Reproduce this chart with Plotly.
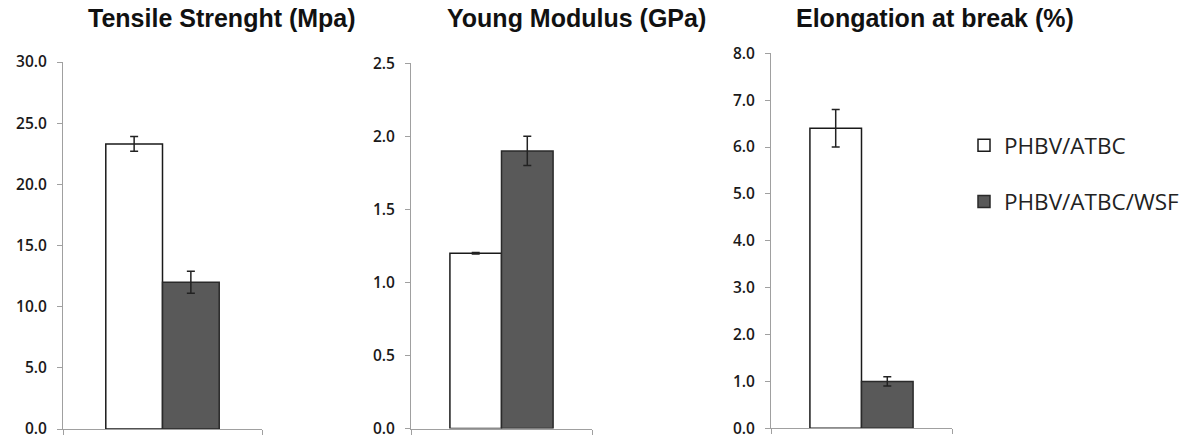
import plotly.graph_objects as go

# ---- data ----
series_names = ["PHBV/ATBC", "PHBV/ATBC/WSF"]
panel_titles = ["Tensile Strenght (Mpa)", "Young Modulus (GPa)", "Elongation at break (%)"]
tensile = [23.3, 12.0]
tensile_err = [0.6, 0.9]
young = [1.2, 1.9]
young_err = [0.005, 0.1]
elong = [6.4, 1.0]
elong_err = [0.4, 0.1]
y_max = [30.0, 2.5, 8.0]
y_step = [5.0, 0.5, 1.0]

values = [tensile, young, elong]
errors = [tensile_err, young_err, elong_err]

W, H = 1193, 440
fills = ["#ffffff", "#595959"]
lines = ["#1a1a1a", "#2a2a2a"]

# pixel geometry of panels (left, right, top, bottom)
boxes = [(63, 262, 62, 429), (411, 592, 63.3, 428.5), (771, 952, 53.3, 428.3)]
title_cx = [222, 576, 935]

fig = go.Figure()
for p in range(3):
    xa = "x" if p == 0 else f"x{p+1}"
    ya = "y" if p == 0 else f"y{p+1}"
    for s in range(2):
        fig.add_trace(go.Bar(
            x=[0], y=[values[p][s]], name=series_names[s],
            xaxis=xa, yaxis=ya, offsetgroup=str(s),
            marker=dict(color=fills[s], line=dict(color=lines[s], width=1.5)),
            error_y=dict(type="data", array=[errors[p][s]], visible=True,
                         color="#222222", thickness=1.5, width=4),
            showlegend=(p == 0), legendgroup=series_names[s],
        ))

layout = dict(
    width=W, height=H, margin=dict(l=0, r=0, t=0, b=0, autoexpand=False),
    paper_bgcolor="white", plot_bgcolor="white",
    barmode="group", bargap=0.43, bargroupgap=0,
    showlegend=True,
    legend=dict(x=964 / W, y=1 - 124 / H, xanchor="left", yanchor="top",
                font=dict(family="Open Sans", size=22.5, color="#222222"),
                tracegroupgap=24, traceorder="grouped",
                bgcolor="rgba(0,0,0,0)"),
)
annotations = []
for p in range(3):
    l, r, t, b = boxes[p]
    sfx = "" if p == 0 else str(p + 1)
    layout["xaxis" + sfx] = dict(
        domain=[l / W, r / W], anchor="y" + sfx, range=[-0.5, 0.5],
        tickvals=[-0.5, 0.5], ticktext=["", ""], ticks="outside", ticklen=5,
        tickcolor="#a0a0a0", showline=True, linecolor="#a0a0a0", linewidth=1,
        showgrid=False, zeroline=False, fixedrange=True, automargin=False,
    )
    n = int(round(y_max[p] / y_step[p]))
    tv = [round(i * y_step[p], 3) for i in range(n + 1)]
    layout["yaxis" + sfx] = dict(
        domain=[1 - b / H, 1 - t / H], anchor="x" + sfx, range=[0, y_max[p]],
        tickvals=tv, ticktext=[f"{v:.1f}" for v in tv],
        ticks="outside", ticklen=5, tickcolor="#a0a0a0",
        showline=True, linecolor="#a0a0a0", linewidth=1,
        showgrid=False, zeroline=False, automargin=False,
        ticklabeloverflow="allow", ticklabelstandoff=7,
        tickfont=dict(family="Open Sans", size=15.5, color="#1a1a1a", weight=600),
    )
    annotations.append(dict(
        text="<b>" + panel_titles[p] + "</b>", xref="paper", yref="paper",
        x=title_cx[p] / W, y=1 - 18 / H, xanchor="center", yanchor="middle",
        showarrow=False, font=dict(family="Liberation Sans", size=25, color="#111111"),
    ))
layout["annotations"] = annotations
fig.update_layout(**layout)

fig.write_html("out.html")
